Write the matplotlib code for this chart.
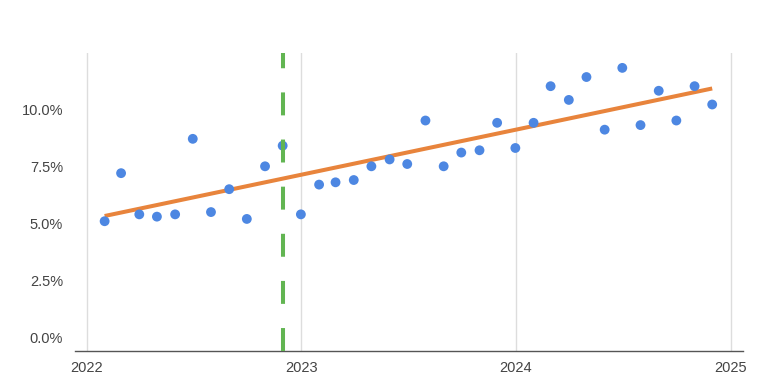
import numpy as np
import pandas as pd
import matplotlib as mpl
import matplotlib.pyplot as plt
import matplotlib.dates as mdates
from matplotlib.ticker import FuncFormatter

mpl.use('Agg')
plt.rcParams['font.family'] = ['Liberation Sans', 'DejaVu Sans']

# monthly values (month end), Jan 2022 .. Nov 2024, in percent
meses = pd.date_range('2022-01-31', '2024-11-30', freq='ME')
valores = [5.1, 7.2, 5.4, 5.3, 5.4, 8.7, 5.5, 6.5, 5.2, 7.5, 8.4, 5.4,
           6.7, 6.8, 6.9, 7.5, 7.8, 7.6, 9.5, 7.5, 8.1, 8.2, 9.4, 8.3,
           9.4, 11.0, 10.4, 11.4, 9.1, 11.8, 9.3, 10.8, 9.5, 11.0, 10.2]
marco = pd.Timestamp('2022-11-30')
anos = ['2022', '2023', '2024', '2025']

cinza = '#555555'

fig = plt.figure(figsize=(7.77, 3.80), dpi=100)
ax = fig.add_axes([75 / 777, 1 - 351 / 380, 668 / 777, 298 / 380])

x = mdates.date2num(meses)
y = np.array(valores)

# trend line (least squares)
a, b = np.polyfit(x, y, 1)
xt = np.array([x[0], x[-1]])
ax.plot(xt, a * xt + b, color='#e8843c', lw=2.9, solid_capstyle='butt', zorder=3)

ax.scatter(x, y, s=50, color='#4d87e2', edgecolors='none', zorder=4)

ax.axvline(mdates.date2num(marco), color='#62b552', lw=2.9,
           dashes=(5.7, 6.0), zorder=5)

xticks = mdates.date2num([pd.Timestamp(a + '-01-01') for a in anos])
ax.set_xticks(xticks)
ax.set_xticklabels(anos)
ax.set_xlim(xticks[0] - 12 / 214.67 * 365.25, xticks[-1] + 12 / 214.67 * 365.25)
ax.grid(axis='x', color='#dddddd', lw=1)
ax.set_axisbelow(True)

ax.set_ylim(-0.57, 12.45)
ax.set_yticks([0, 2.5, 5, 7.5, 10])
ax.yaxis.set_major_formatter(FuncFormatter(lambda v, p: '{:.1f}%'.format(v)))

for s in ['top', 'right', 'left']:
    ax.spines[s].set_visible(False)
ax.spines['bottom'].set_color(cinza)
ax.spines['bottom'].set_linewidth(1)
ax.tick_params(axis='both', length=0, labelsize=10.5, colors='#444444')
ax.tick_params(axis='y', pad=8.6)
ax.tick_params(axis='x', pad=7)

plt.savefig('out.png', dpi=100)
